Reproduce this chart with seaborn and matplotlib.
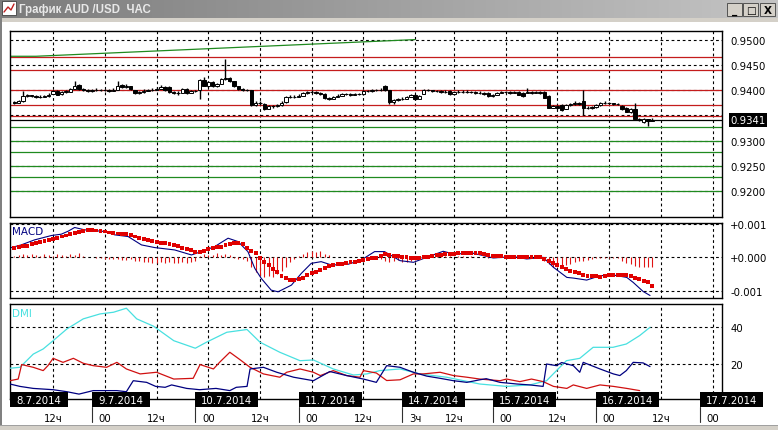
import numpy as np
import seaborn as sns
import matplotlib.pyplot as plt
import matplotlib.transforms as mtransforms
from matplotlib.patches import Rectangle
from matplotlib.colors import LinearSegmentedColormap

sns.set_theme(style="white")
plt.rcParams['font.family'] = ['DejaVu Sans']

W, H = 778, 431
BAR_PX = 4.305  # one hourly bar in pixels

# ---- hourly candles, in pips relative to 0.9400 (bars 1..149)
bar_open = [-24, -25, -22, -12, -10, -12, -13, -13, -12, -7,
            -2, -8, -4, -3, 3, 11, 3, 0, -2, 0,
            1, 0, 0, -1, 1, 11, 7, 8, 0, -5,
            -4, -1, 0, 1, 3, 7, 6, -4, -5, -5,
            3, -5, -2, 0, 21, 9, 16, 8, 13, 22,
            24, 18, 8, 3, 0, 0, -30, -25, -28, -37,
            -32, -32, -30, -24, -13, -13, -13, -11, -5, -4,
            -3, -5, -7, -15, -17, -13, -11, -8, -8, -9,
            -8, -8, -2, -2, 0, 0, 8, 0, -24, -20,
            -17, -17, -13, -9, -17, -7, 0, 0, -2, -2,
            -3, -2, -8, -3, -3, -3, -3, -4, -5, -5,
            -5, -12, -9, -5, -4, -4, -5, -3, -5, -5,
            -4, -5, -4, -4, -12, -35, -32, -30, -37, -30,
            -28, -25, -22, -35, -35, -34, -30, -26, -25, -26,
            -28, -32, -35, -43, -37, -57, -64, -58, -61]
bar_close = [-25, -22, -12, -10, -12, -13, -13, -12, -9, -2,
             -9, -4, -2, 3, 8, 3, 0, -2, 0, 1,
             0, 0, -1, 1, 8, 7, 8, 3, -5, -4,
             -1, 0, 1, 3, 7, 1, -4, -5, -5, 3,
             -5, -2, -2, 20, 9, 16, 8, 13, 22, 24,
             18, 8, 3, 0, 0, -30, -25, -26, -37, -32,
             -32, -30, -25, -13, -13, -13, -11, -5, -4, -3,
             -5, -7, -15, -17, -13, -11, -8, -8, -9, -8,
             -8, -2, -2, 0, 0, 1, 0, -24, -20, -17,
             -17, -13, -9, -17, -11, 0, 0, -2, -2, -3,
             -3, -8, -3, -3, -3, -3, -4, -5, -5, -7,
             -12, -9, -5, -4, -4, -5, -4, -9, -12, -4,
             -5, -4, -5, -15, -35, -32, -35, -39, -30, -28,
             -25, -28, -35, -35, -34, -30, -26, -25, -26, -28,
             -28, -38, -43, -38, -57, -60, -58, -61, -59]
bar_high = [-22, -19, -2, -7, -9, -10, -10, -9, -5, 0,
            0, -1, 1, 5, 18, 13, 4, 2, 3, 4,
            3, 3, 2, 4, 18, 13, 12, 9, 1, -1,
            2, 3, 4, 6, 10, 8, 8, -2, -2, 5,
            5, 1, 1, 22, 26, 18, 18, 15, 24, 61,
            26, 19, 9, 4, 3, 1, -22, -22, -26, -30,
            -29, -27, -22, -11, -10, -10, -8, -3, -1, 0,
            -2, -4, -5, -13, -11, -8, -6, -5, -6, -5,
            -5, 0, 1, 3, 3, 5, 11, 1, -18, -15,
            -14, -11, -7, -7, -9, 2, 3, 1, 1, 0,
            1, 0, -1, 0, 0, 0, -1, -2, -2, -4,
            -3, -7, -3, -1, -1, -2, -1, -1, -3, 5,
            -2, -1, -2, -2, -10, -29, -30, -28, -28, -25,
            -22, -24, 0, -32, -31, -28, -24, -22, -23, -25,
            -25, -30, -33, -36, -25, -55, -56, -57, -56]
bar_low = [-27, -25, -23, -13, -14, -15, -15, -14, -13, -8,
           -10, -9, -5, -4, 2, 1, -2, -4, -3, -2,
           -2, -2, -3, -2, 0, 5, 5, 1, -7, -7,
           -5, -2, -2, 0, 2, -1, -5, -8, -9, -6,
           -7, -6, -4, -17, 8, 7, 6, 7, 12, 20,
           16, 6, 1, -2, -2, -32, -32, -30, -39, -38,
           -35, -34, -31, -25, -15, -15, -14, -12, -7, -6,
           -7, -9, -17, -19, -18, -14, -12, -10, -11, -10,
           -10, -9, -4, -3, -2, -1, -1, -28, -27, -21,
           -19, -18, -14, -19, -18, -8, -2, -4, -4, -5,
           -5, -9, -9, -5, -5, -5, -6, -7, -7, -9,
           -13, -13, -10, -6, -6, -7, -6, -10, -13, -6,
           -7, -6, -7, -16, -36, -36, -37, -41, -38, -31,
           -29, -30, -50, -38, -37, -35, -31, -28, -28, -30,
           -30, -40, -44, -45, -58, -62, -66, -70, -62]

red_levels = [0.9466, 0.9439, 0.94008, 0.9371, 0.9349]
green_levels = [0.9328, 0.9300, 0.9277, 0.9250, 0.9229, 0.9200]
last_price = 0.9341
trend_x = [0, 6, 94]
trend_y = [0.9467, 0.9467, 0.9500]
price_ticks = [0.9200, 0.9250, 0.9300, 0.9350, 0.9400, 0.9450, 0.9500]
price_labels = ["0.9200", "0.9250", "0.9300", "", "0.9400", "0.9450", "0.9500"]

# ---- MACD, in units of 0.001
macd_x = [0.3, 2.6, 5.7, 9.6, 11.9, 13.5, 15, 17.3, 22, 24.3, 27.4, 30.5, 33.6,
          38.2, 42.1, 44.4, 47.5, 50.6, 52.9, 55.2, 56.8, 58.3, 60.6, 62.2,
          65.3, 67.6, 69.9, 72.2, 74.6, 78.4, 81.5, 84.6, 86.9, 88.5, 90.5,
          93.6, 96.7, 100.5, 102.9, 107.5, 112.1, 116.8, 119.9, 123.7, 126.1,
          129.2, 130.7, 133.8, 136.9, 140, 143.1, 144.6, 146.9, 148.5]
macd_y = [0.29, 0.37, 0.52, 0.65, 0.69, 0.78, 0.89, 0.82, 0.77, 0.67, 0.62, 0.37,
          0.29, 0.22, 0.07, 0.17, 0.32, 0.57, 0.47, 0.17, -0.33, -0.63, -0.98,
          -1.03, -0.83, -0.48, -0.18, -0.13, -0.23, -0.21, -0.08, 0.17, 0.17,
          0.05, -0.10, -0.15, 0.00, 0.18, 0.10, 0.12, -0.02, 0.02, -0.05, 0.00,
          -0.30, -0.60, -0.62, -0.68, -0.55, -0.53, -0.60, -0.75, -1.02, -1.14]
macd_signal = [0.29, 0.31, 0.33, 0.35, 0.39, 0.43, 0.47, 0.50, 0.53, 0.56,
               0.59, 0.62, 0.65, 0.69, 0.72, 0.75, 0.78, 0.81, 0.81, 0.80,
               0.79, 0.77, 0.74, 0.72, 0.71, 0.70, 0.69, 0.66, 0.62, 0.59,
               0.56, 0.53, 0.50, 0.47, 0.44, 0.42, 0.39, 0.36, 0.33, 0.29,
               0.25, 0.21, 0.17, 0.15, 0.20, 0.25, 0.27, 0.30, 0.32, 0.36,
               0.40, 0.43, 0.42, 0.39, 0.27, 0.20, 0.12, -0.03, -0.13, -0.23,
               -0.35, -0.45, -0.55, -0.62, -0.68, -0.68, -0.66, -0.63, -0.53, -0.48,
               -0.43, -0.37, -0.31, -0.27, -0.23, -0.21, -0.20, -0.18, -0.15, -0.13,
               -0.10, -0.08, -0.05, -0.03, -0.01, 0.04, 0.09, 0.07, 0.05, 0.03,
               0.01, 0.00, -0.01, -0.02, -0.01, 0.01, 0.02, 0.04, 0.06, 0.08,
               0.10, 0.11, 0.11, 0.12, 0.12, 0.12, 0.12, 0.12, 0.12, 0.10,
               0.07, 0.05, 0.04, 0.03, 0.02, 0.02, 0.02, 0.02, 0.02, 0.02,
               0.01, 0.01, 0.00, -0.05, -0.10, -0.17, -0.23, -0.30, -0.35, -0.40,
               -0.45, -0.48, -0.52, -0.55, -0.56, -0.57, -0.58, -0.56, -0.54, -0.53,
               -0.53, -0.53, -0.53, -0.57, -0.62, -0.66, -0.70, -0.75, -0.85]
macd_hist = [0.05, 0.08, 0.10, 0.06, 0.10, 0.08, 0.04, 0.10, 0.08, 0.05,
             0.10, 0.06, 0.03, 0.10, 0.08, 0.12, 0.05, 0.02, 0.01, -0.02,
             -0.03, -0.05, -0.04, -0.06, -0.05, -0.07, -0.08, -0.06, -0.10, -0.12,
             -0.15, -0.13, -0.16, -0.18, -0.15, -0.17, -0.14, -0.16, -0.18, -0.15,
             -0.17, -0.14, -0.10, 0.05, 0.10, 0.06, 0.08, 0.12, 0.07, 0.10,
             0.08, -0.03, -0.05, -0.06, -0.12, -0.28, -0.45, -0.55, -0.60, -0.55,
             -0.58, -0.50, -0.42, -0.30, -0.15, -0.05, 0.05, 0.10, 0.15, 0.19,
             0.15, 0.18, 0.10, 0.06, 0.02, 0.01, 0.02, 0.01, 0.00, 0.01,
             0.02, 0.01, 0.00, 0.01, 0.02, -0.05, -0.10, -0.15, -0.12, -0.08,
             -0.13, -0.15, -0.10, -0.07, -0.05, 0.02, 0.03, 0.04, 0.03, 0.05,
             0.04, 0.03, 0.02, 0.04, 0.03, 0.02, 0.03, 0.02, 0.01, 0.00,
             -0.01, 0.00, 0.01, 0.00, -0.01, 0.00, 0.01, 0.00, -0.01, 0.00,
             0.01, 0.00, -0.02, -0.10, -0.20, -0.30, -0.28, -0.25, -0.22, -0.20,
             -0.15, -0.12, -0.10, -0.08, -0.05, -0.03, -0.03, -0.03, -0.03, -0.03,
             -0.03, -0.10, -0.18, -0.20, -0.25, -0.30, -0.28, -0.30, -0.28]

# ---- DMI
adx_x = [0, 2.3, 5.4, 7.7, 10, 13.2, 17, 20.9, 24, 27, 29.4, 33.3, 38, 43, 45.6,
         50.3, 55, 58, 62.6, 67.3, 70.4, 75, 79.7, 82.8, 85.8, 90.5, 95.1, 101.3,
         109, 115.2, 120.6, 124.5, 126.8, 129.1, 132.2, 135.3, 139.9, 143, 146.1, 148.5]
adx_y = [17.7, 18.2, 25.4, 28.2, 32.7, 39.1, 44.6, 47.3, 48.2, 50.4, 44.6, 40.6,
         32.7, 28.6, 31.9, 37.3, 38.8, 31.9, 26.4, 21.8, 22.2, 17.3, 14.0, 14.6,
         16.4, 17.3, 14.6, 12.8, 9.1, 7.8, 8.6, 10.9, 16.4, 21.8, 23.1, 29.1,
         29.1, 30.9, 35.5, 40.0]
pdi_x = [0, 1.9, 2.7, 5.4, 7.7, 8.8, 10, 12.3, 14.7, 17, 19.3, 22.4, 24.8, 27,
         30.2, 34, 38, 42.5, 44.1, 47.2, 48.7, 51, 53.4, 55.7, 58.8, 62.6, 64.2,
         67.3, 70.4, 72, 75, 78.1, 81.2, 82, 85, 87.4, 90.5, 93.6, 95.9, 99.8,
         102.9, 106, 109, 113.7, 115.2, 118.3, 121, 123.7, 126.1, 129.2, 130.7,
         133.8, 136.9, 140, 143.1, 146.1]
pdi_y = [10.9, 11.8, 19.7, 18.2, 16.4, 19.1, 23.1, 20.9, 23.1, 20.4, 19.1, 18.2,
         20.9, 17.3, 14.6, 15.5, 11.8, 12.2, 19.7, 17.3, 21.1, 26.4, 22.3, 18.2,
         14.6, 12.8, 15.5, 17.3, 15.5, 13.7, 16.4, 13.7, 12.8, 16.4, 15.1, 11.0,
         11.4, 14.6, 14.6, 15.5, 13.7, 12.8, 11.8, 10.9, 11.8, 10.4, 11.8, 10.4,
         7.8, 6.7, 8.6, 6.7, 8.6, 7.8, 6.7, 5.5]
mdi_x = [0, 2.3, 5.4, 10, 13.2, 16, 19.3, 24.8, 27, 28.6, 31.7, 33.8, 36, 37.5,
         41, 44, 47.8, 51, 52.5, 55, 55.7, 58.8, 61.9, 65.8, 70.4, 74.2, 78.1,
         82, 85, 87.4, 90.5, 93.6, 96.7, 99.8, 102.9, 106, 109, 110.5, 113.7,
         117.6, 120.6, 123.7, 124.5, 126.8, 128, 130.7, 132.2, 133, 136.9, 140,
         141.5, 143, 144.6, 146.9, 148.5]
mdi_y = [9.1, 7.8, 6.7, 6.0, 4.9, 3.6, 5.5, 5.5, 4.9, 10.9, 10.0, 7.8, 7.3, 8.6,
         6.7, 6.0, 6.7, 5.5, 7.3, 7.8, 17.3, 18.2, 15.5, 12.8, 10.9, 15.9, 13.7,
         11.8, 10.0, 19.1, 18.2, 15.5, 13.4, 12.2, 10.9, 10.0, 11.4, 12.0, 10.0,
         9.1, 8.6, 7.8, 20.0, 19.1, 20.8, 19.1, 15.5, 20.9, 17.3, 14.6, 13.7,
         16.4, 20.9, 20.6, 18.6]

# ---- time axis
grid_bars = [10, 22, 34, 46, 58, 70, 82, 94, 103, 115, 127, 139, 151, 163]
time_labels = ["12ч", "00", "12ч", "00", "12ч", "00", "12ч", "3ч", "12ч",
               "00", "12ч", "00", "12ч", "00"]
day_starts = [0, 19, 43, 67, 91, 112, 136, 160]
day_labels = ["8.7.2014", "9.7.2014", "10.7.2014", "11.7.2014",
              "14.7.2014", "15.7.2014", "16.7.2014", "17.7.2014"]

RED = '#c41c1c'
GREEN = '#1f8a1f'
NAVY = '#000080'
CYAN = '#48e0e0'

fig = plt.figure(figsize=(W / 100, H / 100), dpi=100)
fig.patch.set_facecolor('white')


def px_axes(left, top, right, bottom):
    return fig.add_axes([left / W, 1 - bottom / H, (right - left) / W, (bottom - top) / H])


def fig_rect(x0, y0, x1, y1, color, z=0):
    fig.patches.append(Rectangle((x0 / W, 1 - y1 / H), (x1 - x0) / W, (y1 - y0) / H,
                                 transform=fig.transFigure, facecolor=color,
                                 edgecolor='none', zorder=z))


# window chrome
fig_rect(0, 19, 778, 23, '#d4d0c8')
fig_rect(0, 19, 2, 431, '#808080')
fig_rect(0, 427, 778, 431, '#d4d0c8')
fig_rect(0, 426, 778, 427, '#a0a0a0')

ax_t = fig.add_axes([0, 1 - 19 / H, 1, 19 / H])
cap = LinearSegmentedColormap.from_list('cap', ['#7c7c7c', '#c4c4c4'])
ax_t.imshow(np.linspace(0, 1, 256).reshape(1, -1), aspect='auto', cmap=cap,
            extent=[0, W, 19, 0])
ax_t.set_xlim(0, W)
ax_t.set_ylim(19, 0)
ax_t.axis('off')
ax_t.add_patch(Rectangle((2, 2), 14, 14, facecolor='white', edgecolor='#404040', lw=0.6))
ax_t.plot([4, 8, 11, 14], [13, 8, 11, 5], color='#c02020', lw=1.0)
ax_t.text(19, 10, "График AUD /USD  ЧАС", color='#e8e8e8', fontsize=8.3,
          fontweight='bold', va='center', ha='left', family=['Liberation Sans'])
for bx, sym in zip([727, 743, 760], ['_', '□', 'X']):
    ax_t.add_patch(Rectangle((bx, 4), 15, 13, facecolor='#d4d0c8', edgecolor='#404040', lw=0.6))
    ax_t.text(bx + 7.5, 11, sym, color='black', fontsize=7.5, fontweight='bold',
              ha='center', va='center')

ax_p = px_axes(10, 32, 722, 218)
ax_m = px_axes(10, 224, 722, 299)
ax_d = px_axes(10, 305, 722, 400)

for ax in (ax_p, ax_m, ax_d):
    ax.set_facecolor('white')
    ax.set_xlim(0, 165.2)
    for s in ax.spines.values():
        s.set_visible(True)
        s.set_color('black')
        s.set_linewidth(1.0)
    ax.set_xticks(grid_bars)
    ax.set_axisbelow(True)
    ax.grid(True, color='black', linestyle=(0, (2.5, 2.5)), linewidth=0.8)
    ax.yaxis.tick_right()
    ax.tick_params(axis='y', length=0, pad=6, labelsize=7.3, labelcolor='black')
    ax.tick_params(axis='x', length=0, labelsize=7.3, labelcolor='black')

ax_p.set_xticklabels([])
ax_m.set_xticklabels([])

# ---- price panel
bars = np.arange(1, len(bar_close) + 1)
o = 0.94 + np.array(bar_open) / 1e4
c = 0.94 + np.array(bar_close) / 1e4
hi = 0.94 + np.array(bar_high) / 1e4
lo = 0.94 + np.array(bar_low) / 1e4

for lvl in red_levels:
    ax_p.axhline(lvl, color=RED, lw=0.9, zorder=2)
for lvl in green_levels:
    ax_p.axhline(lvl, color=GREEN, lw=0.9, zorder=2)
ax_p.axhline(last_price, color='black', lw=0.9, zorder=2)
sns.lineplot(x=trend_x, y=trend_y, ax=ax_p, color=GREEN, lw=0.9, zorder=2)

ax_p.vlines(bars, lo, hi, color='black', lw=1.0, zorder=3)
body = np.maximum(np.abs(c - o), 0.00003)
ax_p.bar(bars, body, bottom=np.minimum(o, c), width=0.78,
         color=np.where(c > o, 'white', 'black'), edgecolor='black',
         linewidth=0.7, zorder=4)
ax_p.set_ylim(0.9149, 0.9517)
ax_p.set_yticks(price_ticks)
ax_p.set_yticklabels(price_labels)
trans_p = mtransforms.blended_transform_factory(ax_p.transAxes, ax_p.transData)
ax_p.text(1 + 8.5 / 712, last_price, "0.9341", transform=trans_p, color='white',
          fontsize=7.3, va='center', ha='left',
          bbox=dict(facecolor='black', edgecolor='none', pad=1.2))

# ---- MACD panel
ax_m.vlines(bars, 0, macd_hist, color='#e01414', lw=0.8, zorder=2)
sns.lineplot(x=macd_x, y=macd_y, ax=ax_m, color=NAVY, lw=0.8, zorder=3)
sns.scatterplot(x=bars, y=macd_signal, ax=ax_m, marker='s', s=8, color='#e00000',
                edgecolor='none', linewidth=0, zorder=4)
ax_m.set_ylim(-1.215, 1.024)
ax_m.set_yticks([-1, 0, 1])
ax_m.set_yticklabels(["-0.001", "+0.000", "+0.001"])
ax_m.text(2 / 712, 0.89, "MACD", transform=ax_m.transAxes, color=NAVY,
          fontsize=7.5, va='center', ha='left')

# ---- DMI panel
sns.lineplot(x=adx_x, y=adx_y, ax=ax_d, color=CYAN, lw=0.9, zorder=3)
sns.lineplot(x=pdi_x, y=pdi_y, ax=ax_d, color='#d01010', lw=0.9, zorder=3)
sns.lineplot(x=mdi_x, y=mdi_y, ax=ax_d, color=NAVY, lw=0.9, zorder=3)
ax_d.set_ylim(0.93, 52.7)
ax_d.set_yticks([20, 40])
ax_d.set_yticklabels(["20", "40"])
ax_d.text(2 / 712, 0.91, "DMI", transform=ax_d.transAxes, color=CYAN,
          fontsize=7.5, va='center', ha='left')
ax_d.set_xticklabels(time_labels)
ax_d.tick_params(axis='x', pad=10)

trans_d = mtransforms.blended_transform_factory(ax_d.transData, ax_d.transAxes)
for xs, lab in zip(day_starts, day_labels):
    wbars = (58 if len(lab) == 8 else 63) / BAR_PX
    ax_d.add_patch(Rectangle((xs, -8 / 95), wbars, 15 / 95, transform=trans_d,
                             facecolor='black', edgecolor='none', clip_on=False, zorder=10))
    ax_d.text(xs + wbars / 2, -0.6 / 95, lab, transform=trans_d, color='white',
              fontsize=7.3, ha='center', va='center', clip_on=False, zorder=11)
    if xs > 0:
        ax_d.plot([xs, xs], [-8 / 95, -23 / 95], transform=trans_d, color='#303030',
                  lw=0.8, clip_on=False, zorder=10)

for ax in (ax_p, ax_m, ax_d):
    ax.set_xlabel('')
    ax.set_ylabel('')
    if ax.get_legend() is not None:
        ax.get_legend().remove()

fig.savefig('out.png', dpi=100, facecolor=fig.get_facecolor())
